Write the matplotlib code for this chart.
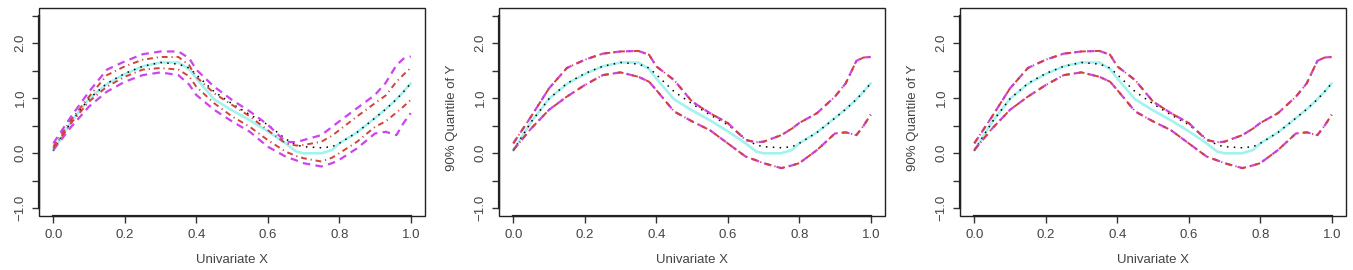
import matplotlib
matplotlib.use('Agg')
from matplotlib import pyplot as plt
from matplotlib.patches import Rectangle

plt.rcParams['font.family'] = ['Liberation Sans', 'DejaVu Sans']

#--- grid of x values
x = [0, 0.05, 0.1, 0.15, 0.2, 0.25, 0.3, 0.35, 0.38, 0.4, 0.45, 0.5, 0.55,
     0.6, 0.65, 0.68, 0.7, 0.75, 0.78, 0.8, 0.85, 0.9, 0.93, 0.96, 0.98, 1.0]

# true 90% quantile (cyan) and estimate (black dots)
true_q = [0.05, 0.57, 0.99, 1.26, 1.44, 1.58, 1.65, 1.65, 1.53, 1.36, 0.98, 0.78, 0.60,
          0.40, 0.18, 0.03, 0.0, 0.0, 0.06, 0.18, 0.38, 0.64, 0.80, 0.98, 1.12, 1.27]
est_q = [0.05, 0.57, 0.99, 1.27, 1.45, 1.58, 1.65, 1.62, 1.55, 1.43, 1.12, 0.90, 0.70,
         0.52, 0.26, 0.15, 0.12, 0.10, 0.12, 0.18, 0.38, 0.64, 0.80, 0.98, 1.12, 1.27]

# panel 1 bands
p1_mag_up = [0.18, 0.67, 1.12, 1.52, 1.67, 1.80, 1.85, 1.85, 1.73, 1.52, 1.21, 0.97, 0.76,
             0.52, 0.21, 0.20, 0.24, 0.33, 0.48, 0.58, 0.82, 1.06, 1.28, 1.60, 1.72, 1.76]
p1_mag_lo = [0.06, 0.48, 0.85, 1.12, 1.30, 1.42, 1.47, 1.42, 1.25, 1.06, 0.79, 0.58, 0.39,
             0.12, -0.06, -0.13, -0.18, -0.24, -0.18, -0.12, 0.09, 0.36, 0.39, 0.33, 0.55, 0.73]
p1_red_up = [0.12, 0.61, 1.03, 1.42, 1.58, 1.70, 1.75, 1.75, 1.60, 1.39, 1.09, 0.88, 0.67,
             0.42, 0.18, 0.14, 0.15, 0.21, 0.32, 0.42, 0.67, 0.91, 1.05, 1.30, 1.43, 1.55]
p1_red_lo = [0.09, 0.55, 0.94, 1.21, 1.39, 1.52, 1.55, 1.52, 1.40, 1.21, 0.91, 0.67, 0.48,
             0.24, 0.03, -0.05, -0.09, -0.15, -0.08, 0.0, 0.21, 0.48, 0.58, 0.74, 0.85, 0.97]

# panels 2 and 3 bands (both band types coincide)
band_up = [0.18, 0.67, 1.18, 1.55, 1.70, 1.81, 1.85, 1.86, 1.79, 1.58, 1.33, 0.94, 0.73,
           0.55, 0.24, 0.20, 0.21, 0.33, 0.45, 0.55, 0.73, 1.03, 1.27, 1.68, 1.74, 1.75]
band_lo = [0.06, 0.45, 0.79, 1.03, 1.24, 1.42, 1.47, 1.39, 1.30, 1.15, 0.76, 0.58, 0.42,
           0.18, -0.06, -0.13, -0.18, -0.27, -0.22, -0.18, 0.06, 0.36, 0.38, 0.33, 0.50, 0.70]

x_ticks = [0.0, 0.2, 0.4, 0.6, 0.8, 1.0]
y_ticks = [-1.0, -0.5, 0.0, 0.5, 1.0, 1.5, 2.0, 2.5]
y_labels = ['\u22121.0', '', '0.0', '', '1.0', '', '2.0', '']

CYAN = '#A2F2F0'
RED = '#D2423C'
MAG = '#CC44F0'

W, H = 1353, 270
fig = plt.figure(figsize=(W / 100, H / 100), dpi=100)

lefts = [39, 499, 960]
box_w = 386
bands = [(p1_mag_up, p1_mag_lo, p1_red_up, p1_red_lo),
         (band_up, band_lo, band_up, band_lo),
         (band_up, band_lo, band_up, band_lo)]

for left, (mu, ml, ru, rl) in zip(lefts, bands):
    ax = fig.add_axes([left / W, 1 - 216 / H, box_w / W, 208 / H])
    ax.plot(x, true_q, color=CYAN, lw=1.9, solid_capstyle='round')
    ax.plot(x, est_q, color='black', lw=1.1, linestyle=(0, (1, 3.5)))
    for b in (mu, ml):
        ax.plot(x, b, color=MAG, lw=1.6, linestyle=(0, (3.4, 2.4)))
    for b in (ru, rl):
        ax.plot(x, b, color=RED, lw=1.4, linestyle=(0, (3.0, 2.0, 0.6, 2.0)))

    ax.set_xlim(-0.04, 1.04)
    ax.set_ylim(-1.14, 2.64)
    ax.set_xticks(x_ticks)
    ax.set_xticklabels([f'{v:.1f}' for v in x_ticks])
    ax.set_yticks(y_ticks)
    ax.set_yticklabels(y_labels, rotation=90, va='center')
    ax.tick_params(length=5, width=1.0, color='#333333', labelsize=9.5,
                   labelcolor='#444444', pad=4)

    # R style: axis lines only span the ticks, thin box around
    for s in ('top', 'right'):
        ax.spines[s].set_visible(False)
    ax.spines['left'].set_bounds(-1.0, 2.5)
    ax.spines['bottom'].set_bounds(0.0, 1.0)
    for s in ('left', 'bottom'):
        ax.spines[s].set_linewidth(1.6)
        ax.spines[s].set_color('#222222')
    ax.add_patch(Rectangle((0, 0), 1, 1, transform=ax.transAxes, fill=False,
                           lw=1.0, edgecolor='#222222', clip_on=False))

    ax.set_xlabel('Univariate X', fontsize=9.5, color='#444444')
    ax.xaxis.set_label_coords(0.5, -0.21)
    ax.xaxis.label.set_va('center')
    ax.set_ylabel('90% Quantile of Y', fontsize=9.5, color='#444444')
    ax.yaxis.set_label_coords(-0.122, 0.47)
    ax.yaxis.label.set_va('center')

fig.savefig('out.png', dpi=100)
